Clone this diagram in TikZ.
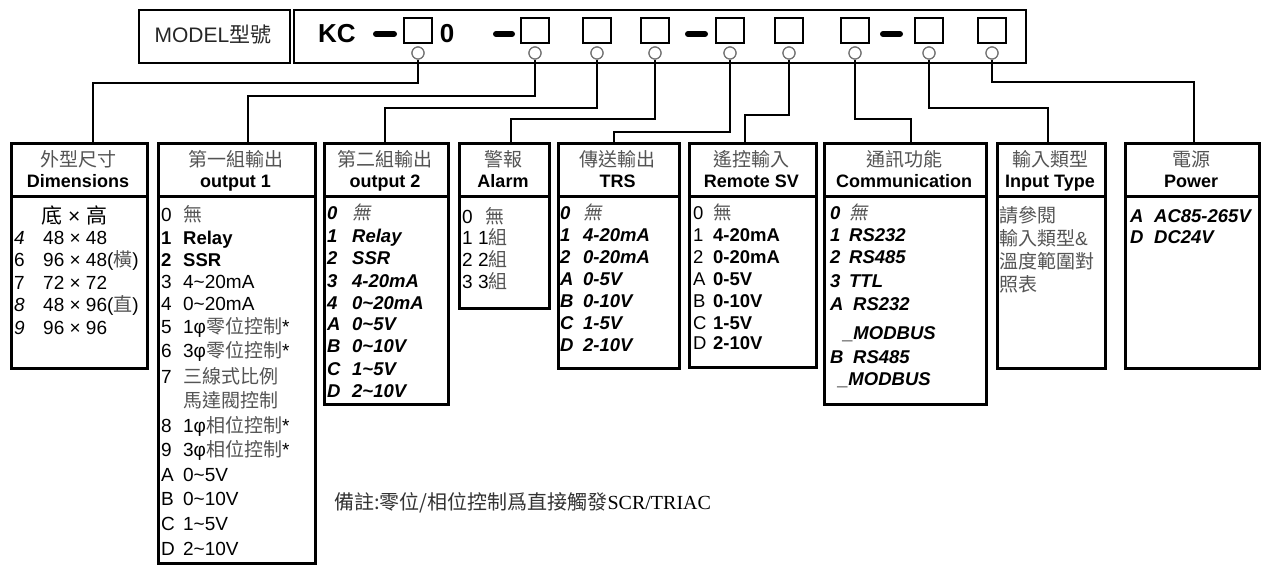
\documentclass[tikz,border=0pt]{standalone}
\usepackage{fontspec}
\setmainfont{Liberation Sans}
\newfontfamily\cjk{Noto Sans CJK TC}
\newfontfamily\cjkit[FakeSlant=0.2]{Noto Sans CJK TC}
\newfontfamily\serifrm{Liberation Serif}
\definecolor{zhgray}{gray}{0.33}
\newcommand\zh[1]{{\mdseries\cjk\color{zhgray}#1}}
\newcommand\zhi[1]{{\mdseries\upshape\cjkit\color{zhgray}#1}}
\newcommand\fs[1]{\fontsize{#1}{#1}\selectfont}
\newcommand\tlde{\textasciitilde}
\tikzset{
 box/.style={draw, line width=2.8pt, anchor=north west, inner sep=0pt},
 topbox/.style={draw, line width=2.3pt, anchor=north west, inner sep=0pt, minimum height=53pt},
 sq/.style={draw, line width=2.2pt, minimum width=28pt, minimum height=25pt, inner sep=0pt},
 circ/.style={circle, draw=black!55, fill=white, line width=1.2pt, minimum size=12pt, inner sep=0pt},
 dashbar/.style={line width=6pt, line cap=round},
 conn/.style={line width=2.8pt},
 txt/.style={inner sep=0pt, anchor=base west, font={\fs{19}}},
 txtb/.style={txt, font={\fs{18.5}\bfseries}},
 txtbi/.style={txt, font={\fs{18.5}\bfseries\itshape}},
 hd/.style={inner sep=0pt, anchor=base, font={\fs{18}\bfseries}},
 hz/.style={inner sep=0pt, anchor=base, font={\fs{19}}},
}
\newcommand\li[7]{\node[#1] (#2) at (#3,#4) {\makebox[#5pt][l]{#6}#7};}
\newcommand\hdr[4]{\node[hz] (#1z) at (#2,166) {\zh{#3}}; \node[hd] (#1e) at (#2,187) {#4};}
\begin{document}
\begin{tikzpicture}[x=1pt,y=-1pt]
\useasboundingbox (0,0) rectangle (1266,565);
\fill[white] (0,0) rectangle (1266,565);

% ---------- model bar ----------
\node[topbox, minimum width=151pt] (mbox) at (138,9) {};
\node[topbox, minimum width=732pt] (kbox) at (293,9) {};
\node[anchor=base, inner sep=0pt, font={\fs{21}}, text=black!85] (mtxt) at (213,42.5) {MODEL{\cjk 型號}};
\node[anchor=base west, inner sep=0pt, font={\fs{26}\bfseries}] (kc) at (318,42) {KC};
\node[anchor=base, inner sep=0pt, font={\fs{26}\bfseries}] (zero) at (447,42) {0};
\draw[dashbar] (376,34) -- (394,34);
\draw[dashbar] (496,34) -- (512,34);
\draw[dashbar] (688,34) -- (705,34);
\draw[dashbar] (883,34) -- (900,34);
\foreach \i/\x in {1/418,2/535,3/597,4/655,5/730,6/789,7/855,8/929,9/992}
  \node[sq] (sq\i) at (\x,30.5) {};

% ---------- boxes ----------
\foreach \i/\x/\w/\h in {1/10/136/172, 2/157/157/367, 3/323/124/208, 4/458/90/112,
  5/557/121/172, 6/688/127/171, 7/823/162/208, 8/996/108/172, 9/1124/134/172}{
  \node[box, minimum width=\w pt, minimum height=53pt] (b\i) at (\x,142) {};
  \node[box, minimum width=\w pt, minimum height=\h pt] (d\i) at (\x,195) {};
}

% ---------- connectors ----------
\coordinate (k1) at (93,83);
\coordinate (k2) at (248,96);
\coordinate (k3) at (385,108);
\coordinate (k4) at (511,119);
\coordinate (k5) at (614,132);
\coordinate (k6) at (745,115);
\coordinate (k7) at (911,119);
\coordinate (k8) at (1048,108);
\coordinate (k9) at (1194,82);
\foreach \i/\x in {1/418,2/535,3/597,4/655,5/730,6/789,7/855,8/929,9/992}
  \node[circ] (c\i) at (\x,53) {};
\foreach \i in {1,...,9}
  \draw[conn] (c\i.south) |- (k\i) -- (k\i |- b\i.north);
\foreach \i in {1,...,9}
  \node[circ] at (c\i) {};

% ---------- headers ----------
\hdr{h1}{78}{外型尺寸}{Dimensions}
\hdr{h2}{235.5}{第一組輸出}{output 1}
\hdr{h3}{385}{第二組輸出}{output 2}
\hdr{h4}{503}{警報}{Alarm}
\hdr{h5}{617.5}{傳送輸出}{TRS}
\hdr{h6}{751.5}{遙控輸入}{Remote SV}
\hdr{h7}{904}{通訊功能}{Communication}
\hdr{h8}{1050}{輸入類型}{Input Type}
\hdr{h9}{1191}{電源}{Power}

% ---------- Dimensions ----------
\node[txt, font={\fs{21}}] (dhd) at (41,223) {{\cjk 底} × {\cjk 高}};
\li{txt}{d1r1}{14}{244}{29}{\itshape 4}{48 × 48}
\li{txt}{d1r2}{14}{266}{29}{6}{96 × 48(\zh{橫})}
\li{txt}{d1r3}{14}{289}{29}{7}{72 × 72}
\li{txt}{d1r4}{14}{311}{29}{\itshape 8}{48 × 96(\zh{直})}
\li{txt}{d1r5}{14}{334}{29}{\itshape 9}{96 × 96}

% ---------- output 1 ----------
\li{txt}{o1r0}{161}{221}{22}{0}{\zh{無}}
\li{txtb}{o1r1}{161}{244}{22}{1}{Relay}
\li{txtb}{o1r2}{161}{266}{22}{2}{SSR}
\li{txt}{o1r3}{161}{288}{22}{3}{4\tlde 20mA}
\li{txt}{o1r4}{161}{310}{22}{4}{0\tlde 20mA}
\li{txt}{o1r5}{161}{333}{22}{5}{1φ\zh{零位控制}*}
\li{txt}{o1r6}{161}{357}{22}{6}{3φ\zh{零位控制}*}
\li{txt}{o1r7}{161}{383}{22}{7}{\zh{三線式比例}}
\li{txt}{o1r7b}{161}{407}{22}{}{\zh{馬達閥控制}}
\li{txt}{o1r8}{161}{432}{22}{8}{1φ\zh{相位控制}*}
\li{txt}{o1r9}{161}{456}{22}{9}{3φ\zh{相位控制}*}
\li{txt}{o1rA}{161}{481}{22}{A}{0\tlde 5V}
\li{txt}{o1rB}{161}{505}{22}{B}{0\tlde 10V}
\li{txt}{o1rC}{161}{530}{22}{C}{1\tlde 5V}
\li{txt}{o1rD}{161}{555}{22}{D}{2\tlde 10V}

% ---------- output 2 ----------
\li{txtbi}{o2r0}{327}{219}{25}{0}{\zhi{無}}
\li{txtbi}{o2r1}{327}{242}{25}{1}{Relay}
\li{txtbi}{o2r2}{327}{264}{25}{2}{SSR}
\li{txtbi}{o2r3}{327}{287}{25}{3}{4-20mA}
\li{txtbi}{o2r4}{327}{309}{25}{4}{0\tlde 20mA}
\li{txtbi}{o2rA}{327}{330}{25}{A}{0\tlde 5V}
\li{txtbi}{o2rB}{327}{352}{25}{B}{0\tlde 10V}
\li{txtbi}{o2rC}{327}{375}{25}{C}{1\tlde 5V}
\li{txtbi}{o2rD}{327}{397}{25}{D}{2\tlde 10V}

% ---------- Alarm ----------
\li{txt}{alr0}{462}{223}{23}{0}{\zh{無}}
\li{txt}{alr1}{462}{244}{16}{1}{1\zh{組}}
\li{txt}{alr2}{462}{266}{16}{2}{2\zh{組}}
\li{txt}{alr3}{462}{288}{16}{3}{3\zh{組}}

% ---------- TRS ----------
\li{txtbi}{trr0}{560}{219}{23}{0}{\zhi{無}}
\li{txtbi}{trr1}{560}{241}{23}{1}{4-20mA}
\li{txtbi}{trr2}{560}{263}{23}{2}{0-20mA}
\li{txtbi}{trrA}{560}{285}{23}{A}{0-5V}
\li{txtbi}{trrB}{560}{307}{23}{B}{0-10V}
\li{txtbi}{trrC}{560}{329}{23}{C}{1-5V}
\li{txtbi}{trrD}{560}{351}{23}{D}{2-10V}

% ---------- Remote SV ----------
\li{txtb}{rsr0}{693}{219}{20}{\mdseries 0}{\zh{無}}
\li{txtb}{rsr1}{693}{241}{20}{\mdseries 1}{4-20mA}
\li{txtb}{rsr2}{693}{263}{20}{\mdseries 2}{0-20mA}
\li{txtb}{rsrA}{693}{285}{20}{\mdseries A}{0-5V}
\li{txtb}{rsrB}{693}{307}{20}{\mdseries B}{0-10V}
\li{txtb}{rsrC}{693}{329}{20}{\mdseries C}{1-5V}
\li{txtb}{rsrD}{693}{349}{20}{\mdseries D}{2-10V}

% ---------- Communication ----------
\li{txtbi}{cmr0}{830}{219}{19}{0}{\zhi{無}}
\li{txtbi}{cmr1}{830}{241}{19}{1}{RS232}
\li{txtbi}{cmr2}{830}{263}{19}{2}{RS485}
\li{txtbi}{cmr3}{830}{287}{19}{3}{TTL}
\li{txtbi}{cmrA}{830}{310}{23}{A}{RS232}
\node[txtbi] (cmm1) at (843,339) {\_MODBUS};
\li{txtbi}{cmrB}{830}{363}{23}{B}{RS485}
\node[txtbi] (cmm2) at (838,385) {\_MODBUS};

% ---------- Input Type ----------
\node[txt] (itr1) at (999,222) {\zh{請參閱}};
\node[txt] (itr2) at (999,245) {\zh{輸入類型}{\color{zhgray}\&}};
\node[txt] (itr3) at (999,268) {\zh{溫度範圍對}};
\node[txt] (itr4) at (999,291) {\zh{照表}};

% ---------- Power ----------
\li{txtbi}{pwrA}{1130}{222}{24}{A}{AC85-265V}
\li{txtbi}{pwrD}{1130}{243}{24}{D}{DC24V}

% ---------- note ----------
\node[txt, font={\fs{20}}] (note) at (334,509) {{\cjk\color{black!80}備註:零位/相位控制爲直接觸發}{\serifrm SCR/TRIAC}};
\end{tikzpicture}
\end{document}
